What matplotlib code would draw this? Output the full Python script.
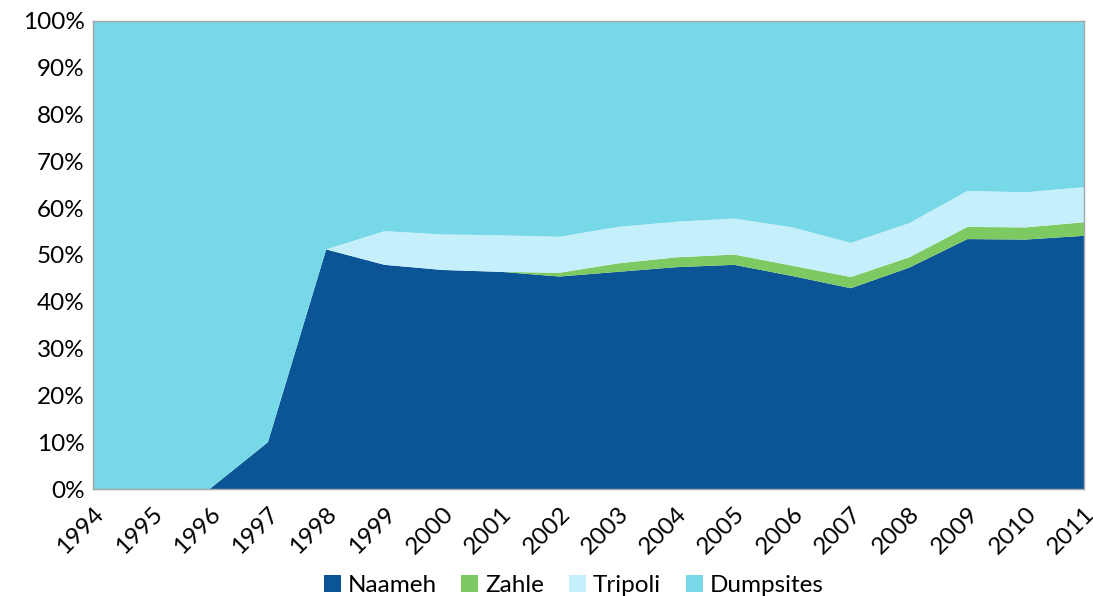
import matplotlib
matplotlib.use("Agg")
import matplotlib.pyplot as plt
from matplotlib.ticker import PercentFormatter

plt.rcParams["font.family"] = ["Lato", "DejaVu Sans"]

years = list(range(1994, 2012))
naameh = [0, 0, 0, 10.0, 51.2, 47.9, 46.8, 46.4, 45.4, 46.4, 47.4, 47.9, 45.5, 42.9, 47.3, 53.4, 53.3, 54.1]
zahle = [0, 0, 0, 0, 0, 0, 0, 0, 0.8, 1.8, 2.1, 2.2, 2.2, 2.4, 2.2, 2.6, 2.6, 2.9]
tripoli = [0, 0, 0, 0, 0, 7.2, 7.6, 7.8, 7.7, 7.8, 7.6, 7.7, 8.2, 7.3, 7.3, 7.7, 7.5, 7.5]
dumpsites = [100, 100, 100, 90.0, 48.8, 44.9, 45.6, 45.8, 46.1, 44.0, 42.9, 42.2, 44.1, 47.4, 43.2, 36.3, 36.6, 35.5]

labels = ["Naameh", "Zahle", "Tripoli", "Dumpsites"]
colors = ["#0b5597", "#7dca63", "#c6effc", "#77d8e7"]

fig = plt.figure(figsize=(10.93, 5.96), dpi=100)
ax = fig.add_axes([0.0851, 0.1795, 0.9067, 0.7853])

ax.stackplot(years, naameh, zahle, tripoli, dumpsites,
             labels=labels, colors=colors, linewidth=0)

ax.set_xlim(1994, 2011)
ax.set_ylim(0, 100)
ax.set_yticks(range(0, 101, 10))
ax.yaxis.set_major_formatter(PercentFormatter(decimals=0))
ax.set_xticks(years)
ax.set_xticklabels([str(y) for y in years], rotation=45, ha="right",
                   rotation_mode="anchor")
ax.tick_params(axis="both", labelsize=17.5, length=0, pad=6)
ax.tick_params(axis="x", pad=10)
for s in ax.spines.values():
    s.set_color("#a6a6a6")
    s.set_linewidth(1)

ax.legend(loc="lower center", bbox_to_anchor=(0.485, -0.275), ncol=4,
          frameon=False, fontsize=17.5, handlelength=0.7, handleheight=0.7,
          handletextpad=0.3, columnspacing=1.0)

fig.savefig("out.png", dpi=100)
